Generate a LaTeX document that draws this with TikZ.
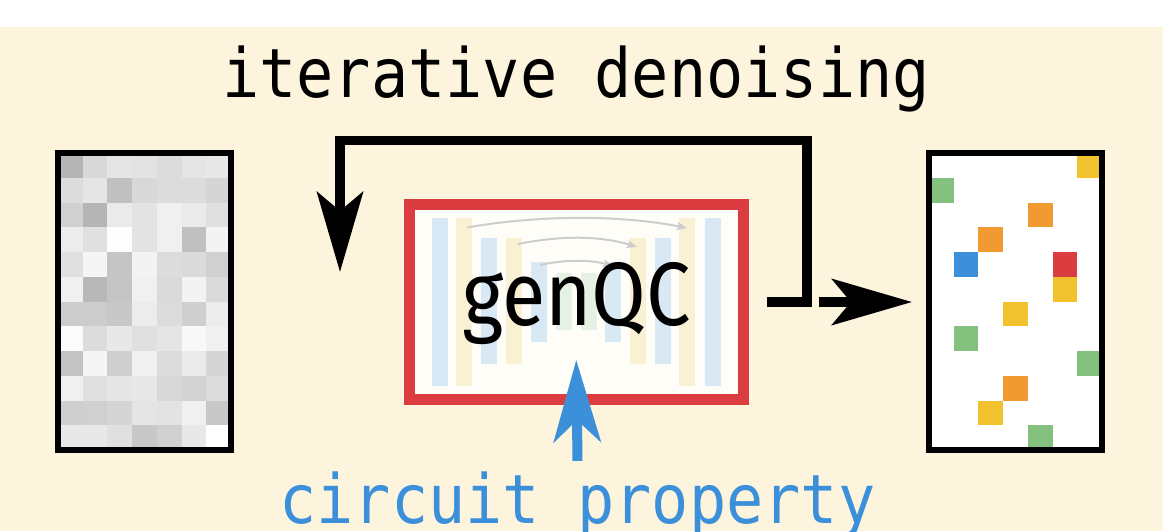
\documentclass[tikz,border=0pt]{standalone}
\usepackage{fontspec}
\usetikzlibrary{arrows.meta}
\newfontfamily\monof[FakeStretch=0.91]{DejaVu Sans Mono}
\newfontfamily\genf[FakeStretch=0.88]{Fira Sans}
\definecolor{cream}{HTML}{FDF4DE}
\definecolor{boxfill}{HTML}{FFFDF7}
\definecolor{qred}{HTML}{DB3C3F}
\definecolor{qblue}{HTML}{3C8FD9}
\definecolor{qgreen}{HTML}{84C17E}
\definecolor{qyellow}{HTML}{F2C12E}
\definecolor{qorange}{HTML}{F19A31}
\definecolor{barblue}{HTML}{D9E8F5}
\definecolor{baryellow}{HTML}{FAF0D4}
\definecolor{bargreen}{HTML}{E5F2E3}
\definecolor{skipgray}{HTML}{CDCDCD}
\tikzset{
  gridbox/.style={draw=black, line width=6pt, minimum width=173pt, minimum height=297pt, inner sep=0pt},
  genbox/.style={draw=qred, line width=11pt, minimum width=334.5pt, minimum height=195pt, inner sep=0pt},
  bigarrow/.style={line width=9.5pt, -{Stealth[length=80pt, width=46pt, inset=19pt]}},
  bluearrow/.style={qblue, line width=10pt, -{Stealth[length=82pt, width=47pt, inset=22pt]}},
  skiparrow/.style={skipgray, line width=2pt, -{Stealth[length=10pt, width=8pt, inset=2pt]}},
  monotext/.style={inner sep=0pt, anchor=base, font=\monof\fontsize{68pt}{68pt}\selectfont}
}
\begin{document}
\begin{tikzpicture}[x=1pt,y=-1pt]
\useasboundingbox (0,0) rectangle (1163,531);
\fill[white] (0,0) rectangle (1163,531);
\fill[cream] (0,27) rectangle (1163,531);

% title
\node[monotext] (title) at (576,97) {iterative denoising};

% noisy grid
\foreach \row [count=\r from 0] in {
  {181,216,229,227,220,229,232},
  {220,229,192,216,220,220,213},
  {208,181,234,227,240,234,224},
  {236,224,253,227,240,192,243},
  {224,245,197,243,220,218,208},
  {240,184,197,240,218,243,218},
  {204,204,200,236,220,207,236},
  {251,220,232,224,229,248,240},
  {195,245,207,240,220,234,213},
  {240,224,229,232,216,211,220},
  {207,208,213,229,227,240,200},
  {232,232,224,200,208,232,255}} {
  \foreach \v [count=\c from 0] in \row {
    \definecolor{cc}{RGB}{\v,\v,\v}
    \fill[cc] (58+\c*24.714, 153+\r*24.75) rectangle ++(24.714,24.75);
  }
}
\node[gridbox] (noisy) at (144.5,301.5) {};

% clean grid
\fill[white] (929,153) rectangle (1102,450);
\foreach \c/\r/\col in {6/0/qyellow, 0/1/qgreen, 4/2/qorange, 2/3/qorange, 1/4/qblue,
  5/4/qred, 5/5/qyellow, 3/6/qyellow, 1/7/qgreen, 6/8/qgreen, 3/9/qorange,
  2/10/qyellow, 4/11/qgreen} {
  \fill[\col] (929+\c*24.714, 153+\r*24.75) rectangle ++(24.714,24.75);
}
\node[gridbox] (clean) at (1015.5,301.5) {};

% genQC box
\fill[boxfill] (409,204.5) rectangle (743.5,399.5);
\foreach \xa/\ya/\xb/\yb/\col in {
  432/218/448/386/barblue, 456/218/472/386/baryellow,
  481/238/497/364/barblue, 506/238/522/364/baryellow,
  531/262/547/342/barblue, 556/273/572/330/bargreen,
  581/273/597/330/bargreen, 605/262/621/342/barblue,
  630/238/646/364/baryellow, 655/238/671/364/barblue,
  679/218/695/386/baryellow, 705/218/721/386/barblue} {
  \fill[\col] (\xa,\ya) rectangle (\xb,\yb);
}
\draw[skiparrow] (467,227.5) .. controls (540,214.8) and (620,214.8) .. (687,228);
\draw[skiparrow] (518,244) .. controls (560,235.5) and (600,235.5) .. (637,247);
\draw[skiparrow] (540,265) .. controls (565,259.5) and (590,259.5) .. (613,266);
\node[genbox] (gen) at (576.25,302) {};
\node[inner sep=0pt, anchor=base, font=\genf\fontsize{90pt}{90pt}\selectfont] (genlabel) at (576.5,325) {genQC};

% connectors
\coordinate (loopcorner) at (807,140.5);
\coordinate (loopend) at (340,272);
\draw[bigarrow] ([xshift=17.5pt]gen.east) -| (loopcorner) -| (loopend);
\draw[bigarrow] ([xshift=70pt]gen.east) -- ([xshift=-14pt]clean.west |- gen.east);

% circuit property
\node[monotext, text=qblue, text height=46pt] (prop) at (577.5,523) {circuit property};
\draw[bluearrow] ([yshift=16pt]prop.north) -- ([yshift=45pt]gen.south);
\end{tikzpicture}
\end{document}
